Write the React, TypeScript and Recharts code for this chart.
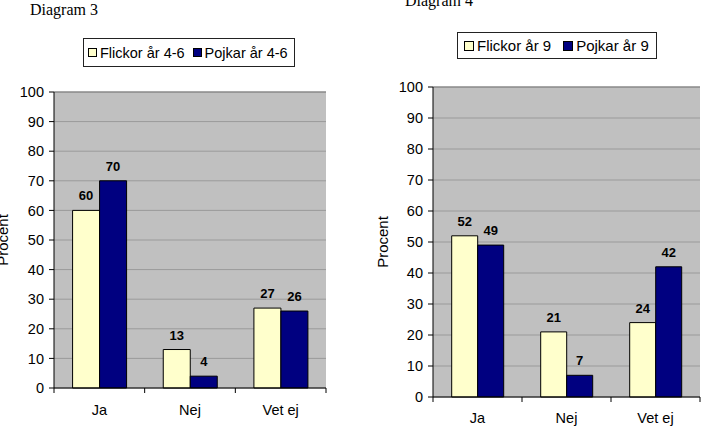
import React from 'react';
import {
  BarChart,
  Bar,
  XAxis,
  YAxis,
  CartesianGrid,
  Legend,
  LabelList,
  ReferenceLine
} from 'recharts';

// answers per category, in percent
const categories = ['Ja', 'Nej', 'Vet ej'];
const flickor46 = [60, 13, 27];
const pojkar46 = [70, 4, 26];
const flickor9 = [52, 21, 24];
const pojkar9 = [49, 7, 42];
const yTicks = [0, 10, 20, 30, 40, 50, 60, 70, 80, 90, 100];

const FONT = '"Liberation Sans", Arial, sans-serif';
const LIGHT = '#ffffcc';
const DARK = '#000080';
const TICK = 5;

const buildData = (a: number[], b: number[]) =>
  categories.map((cat, i) => ({ cat, a: a[i], b: b[i] }));

interface PanelProps {
  data: { cat: string; a: number; b: number }[];
  nameA: string;
  nameB: string;
  width: number;
  margin: { top: number; right: number; bottom: number; left: number };
  axisWidth: number;
  procentX: number;
  legendBox: { left: number; top: number; width: number; height: number };
  legendPad: number;
  legendGap: number;
  legendFont: number;
  swatch: number;
  gap: string;
  labelMargin: number;
}

function Panel(p: PanelProps) {
  const renderLegend = (props: any) => (
    <div
      style={{
        boxSizing: 'border-box',
        width: p.legendBox.width,
        height: p.legendBox.height,
        border: '1px solid #222',
        background: '#fff',
        display: 'flex',
        alignItems: 'center',
        paddingLeft: p.legendPad,
        gap: p.legendGap,
        fontFamily: FONT,
        fontSize: p.legendFont,
        color: '#000',
        whiteSpace: 'nowrap'
      }}
    >
      {props.payload.map((item: any) => (
        <span key={item.value} style={{ display: 'flex', alignItems: 'center' }}>
          <span
            style={{
              display: 'inline-block',
              boxSizing: 'border-box',
              width: p.swatch,
              height: p.swatch,
              background: item.color,
              border: '1px solid #000',
              marginRight: 3
            }}
          />
          {item.value}
        </span>
      ))}
    </div>
  );

  const procentLabel = (props: any) => {
    const vb = props.viewBox;
    const x = vb.x + p.procentX;
    const y = vb.y + vb.height / 2;
    return (
      <text
        x={x}
        y={y}
        transform={`rotate(-90, ${x}, ${y})`}
        textAnchor="middle"
        fontFamily={FONT}
        fontSize={15}
        fill="#000"
      >
        Procent
      </text>
    );
  };

  // category label plus Excel-style tick marks on the band edges
  const CategoryTick = (props: any) => {
    const { x, y, payload, index, visibleTicksCount } = props;
    const half = payload.offset || 0;
    const axisY = y - TICK - p.labelMargin;
    const last = index === visibleTicksCount - 1;
    return (
      <g>
        <line x1={x - half} x2={x - half} y1={axisY} y2={axisY + TICK} stroke="#000" />
        {last && <line x1={x + half} x2={x + half} y1={axisY} y2={axisY + TICK} stroke="#000" />}
        <text x={x} y={y} dy="0.71em" textAnchor="middle" fill="#000" fontSize={14.5} fontFamily={FONT}>
          {payload.value}
        </text>
      </g>
    );
  };

  return (
    <BarChart
      width={p.width}
      height={429}
      data={p.data}
      margin={p.margin}
      barGap={0}
      barCategoryGap={p.gap}
    >
      <CartesianGrid vertical={false} fill="#c0c0c0" fillOpacity={1} stroke="#9a9a9a" />
      <XAxis
        dataKey="cat"
        height={30}
        axisLine={{ stroke: '#000' }}
        tickLine={false}
        tickSize={TICK}
        tickMargin={p.labelMargin}
        tick={CategoryTick}
      />
      <YAxis
        domain={[0, 100]}
        ticks={yTicks}
        interval={0}
        width={p.axisWidth}
        tickSize={TICK}
        tickMargin={5}
        axisLine={{ stroke: '#000' }}
        tickLine={{ stroke: '#000' }}
        tick={{ fill: '#000', fontSize: 14.5, fontFamily: FONT }}
        label={{ content: procentLabel }}
      />
      <YAxis
        yAxisId="border"
        orientation="right"
        type="number"
        domain={[0, 100]}
        width={0}
        tick={false}
        tickLine={false}
        axisLine={{ stroke: '#808080' }}
      />
      <ReferenceLine y={100} stroke="#808080" />
      <Legend
        layout="vertical"
        align="center"
        verticalAlign="middle"
        content={renderLegend}
        wrapperStyle={{
          left: p.legendBox.left,
          top: p.legendBox.top,
          width: p.legendBox.width,
          height: p.legendBox.height
        }}
      />
      <Bar dataKey="a" name={p.nameA} fill={LIGHT} stroke="#000" isAnimationActive={false}>
        <LabelList
          dataKey="a"
          position="top"
          offset={10}
          fill="#000"
          fontSize={13}
          fontWeight="bold"
          fontFamily={FONT}
        />
      </Bar>
      <Bar dataKey="b" name={p.nameB} fill={DARK} stroke="#000" isAnimationActive={false}>
        <LabelList
          dataKey="b"
          position="top"
          offset={10}
          fill="#000"
          fontSize={13}
          fontWeight="bold"
          fontFamily={FONT}
        />
      </Bar>
    </BarChart>
  );
}

const titleStyle: React.CSSProperties = {
  position: 'absolute',
  fontFamily: '"Liberation Serif", "Times New Roman", serif',
  fontSize: 16,
  lineHeight: '16px',
  color: '#000',
  whiteSpace: 'nowrap'
};

export default function App() {
  return (
    <div
      style={{
        position: 'absolute',
        left: 0,
        top: 0,
        width: 702,
        height: 429,
        overflow: 'hidden',
        background: '#fff'
      }}
    >
      <div style={{ ...titleStyle, left: 30, top: 2 }}>Diagram 3</div>
      <div style={{ ...titleStyle, left: 405, top: -7 }}>Diagram 4</div>

      <div style={{ position: 'absolute', left: 0, top: 0 }}>
        <Panel
          data={buildData(flickor46, pojkar46)}
          nameA="Flickor år 4-6"
          nameB="Pojkar år 4-6"
          width={350}
          margin={{ top: 92, right: 24, bottom: 11, left: 0 }}
          axisWidth={54}
          procentX={8}
          legendBox={{ left: 83, top: 38, width: 212, height: 29 }}
          legendPad={4}
          legendGap={8}
          legendFont={14.5}
          swatch={9}
          gap="20.5%"
          labelMargin={12}
        />
      </div>
      <div style={{ position: 'absolute', left: 350, top: 0 }}>
        <Panel
          data={buildData(flickor9, pojkar9)}
          nameA="Flickor år 9"
          nameB="Pojkar år 9"
          width={352}
          margin={{ top: 87, right: 2, bottom: 2, left: 0 }}
          axisWidth={83}
          procentX={38}
          legendBox={{ left: 107, top: 32, width: 200, height: 27 }}
          legendPad={6}
          legendGap={12}
          legendFont={15}
          swatch={10}
          gap="21%"
          labelMargin={11}
        />
      </div>
    </div>
  );
}
